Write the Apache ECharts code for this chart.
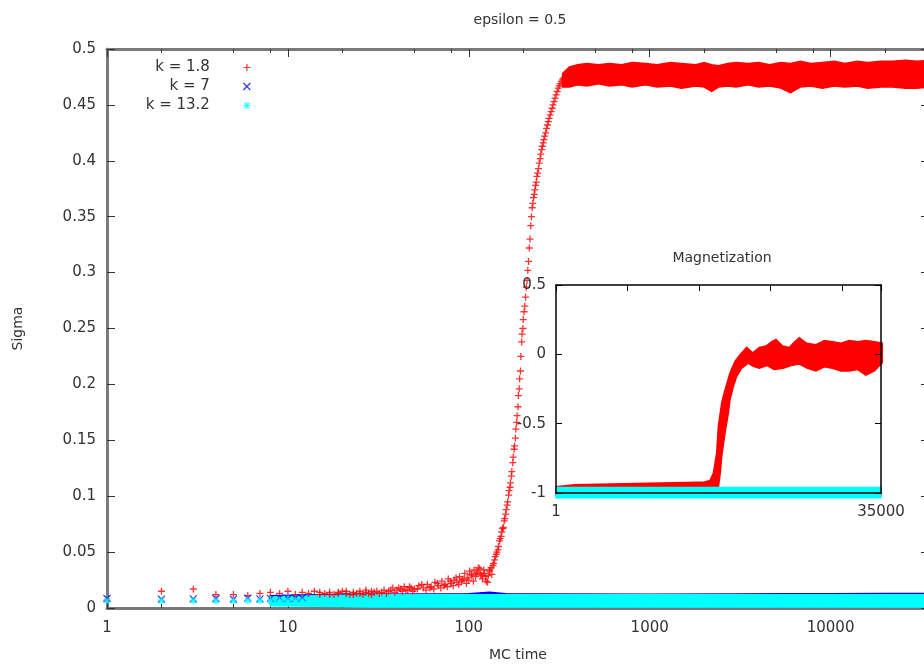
<!DOCTYPE html>
<html><head><meta charset="utf-8">
<script src="https://cdn.jsdelivr.net/npm/echarts@6/dist/echarts.min.js"></script>
<style>html,body{margin:0;padding:0;background:#fff}#c{width:924px;height:666px}</style>
</head><body><div id="c"></div>
<script>
// ---------- data ----------
const xMinorTicks = [2,5,8,20,50,80,200,500,800,2000,5000,8000,20000];

// k = 1.8, individual points (MC time, sigma)
const redT = [1,2,3,4,5,6,7,8,9,10,11,12,13,14,15,16,17,18,19,20,21,22,23,24,25,26,27,28,29,30,32,34,36,38,40,42,44,46,48,50,53,56,59,62,65,68,71,74,77,80,83,86,89,92,95,98,101,104,107,110,113,116,119,122,125,128,131,134,137,140,143,146,149,152,155,158,161,164,167,170,173,176,179,182,185,188,191,194,197,200,204,208,212,216,220,224,228,232,236,240,245,250,255,260,266,272,278,285,292,300,308,316,325,335,345,355,370];
const redS = [.007,.015,.017,.012,.012,.011,.013,.014,.013,.015,.012,.014,.013,.015,.012,.013,.014,.012,.013,.015,.013,.012,.014,.013,.015,.012,.014,.013,.015,.014,.013,.016,.015,.018,.016,.017,.019,.016,.018,.017,.020,.018,.021,.019,.023,.020,.024,.021,.026,.022,.025,.023,.028,.025,.031,.027,.033,.029,.034,.031,.036,.030,.026,.031,.024,.029,.034,.030,.040,.046,.050,.055,.062,.068,.072,.080,.088,.095,.105,.112,.122,.135,.145,.160,.172,.190,.205,.225,.245,.258,.270,.287,.302,.322,.342,.358,.367,.374,.381,.389,.398,.406,.413,.419,.425,.432,.438,.444,.450,.456,.462,.467,.471,.474,.476,.477,.478];
// k = 1.8, more points read from the same cloud
const redT2 = [15,17,19,21,23,25,27,29,31,33,35,37,39,41,43,45,47,49,52,55,58,61,64,67,70,73,76,79,82,85,88,91,94,97,100,103,106,109,112,115,118,121,124,127,130,133,136,139,142,145,148,151,154,157,160,163,166,169,172,175,178,181,184,187,190,193,196,199,202,206,210,214,218,222,226,230,234,238,243,248,253,258,263,269,275,282,289,296,304,312,320,330,340,350,362,375];
const redS2 = [.014,.012,.014,.015,.012,.013,.016,.012,.015,.014,.013,.016,.014,.018,.015,.016,.019,.015,.017,.021,.016,.018,.017,.022,.018,.020,.019,.024,.020,.027,.021,.024,.026,.022,.025,.030,.024,.028,.032,.035,.029,.034,.028,.023,.033,.036,.038,.043,.048,.052,.060,.064,.071,.078,.084,.092,.101,.108,.118,.130,.142,.152,.166,.180,.196,.212,.238,.250,.265,.278,.293,.310,.330,.350,.362,.370,.378,.386,.393,.402,.410,.416,.422,.429,.435,.441,.447,.453,.459,.465,.469,.473,.475,.477,.479,.480];
// k = 1.8, dense plateau envelope
const redBandT  = [330,360,400,450,520,600,700,800,950,1100,1300,1500,1800,2000,2200,2400,2700,3000,3500,4000,4600,5300,6000,6800,7800,9000,10500,12000,14000,16000,19000,22000,26000,30000,35000];
const redBandLo = [.466,.466,.468,.467,.469,.467,.468,.466,.468,.466,.467,.465,.467,.466,.462,.466,.467,.466,.468,.466,.467,.465,.461,.466,.467,.465,.467,.466,.467,.465,.466,.466,.465,.465,.466];
const redBandHi = [.478,.484,.486,.487,.486,.487,.486,.488,.487,.486,.488,.487,.486,.488,.486,.485,.487,.488,.487,.488,.486,.488,.487,.489,.487,.488,.489,.487,.489,.488,.489,.489,.490,.489,.490];

// k = 7
const blueT = [1,2,3,4,5,6,7,8,9,10,11,12];
const blueS = [.0085,.008,.0082,.0085,.008,.0088,.0082,.0086,.009,.0085,.0088,.0092];
const blueBandT  = [8,20,60,100,130,160,300,1000,3000,6000,10000,20000,35000];
const blueBandLo = [.004,.004,.004,.004,.004,.004,.004,.004,.004,.004,.004,.004,.004];
const blueBandHi = [.011,.0122,.0125,.0128,.014,.0128,.0125,.0124,.0126,.0128,.0127,.013,.013];

// k = 13.2
const cyanT = [1,2,3,4,5,6,7,8,9,10,11,12];
const cyanS = [.0065,.0065,.0065,.0065,.0065,.0068,.0066,.0065,.0067,.0066,.0068,.0065];
const cyanBandT  = [8,15,30,35000];
const cyanBandLo = [.002,.0015,.001,.001];
const cyanBandHi = [.010,.011,.0118,.0118];

// inset: Magnetization
const magRedUpT = [1,2000,6000,10000,14000,16000,16585,16944,17303,17482,17841,18200,18738,19277,19815,20533,21190,21900,22620,23200,23690,24400,25120,25700,26200,27000,27990,28900,29770,30700,31560,32500,33360,34300,35140];
const magRedUpM = [-0.955,-0.94,-0.935,-0.93,-0.925,-0.92,-0.91,-0.858,-0.713,-0.521,-0.352,-0.256,-0.135,-0.051,-0.003,0.05,0.01,0.05,0.06,0.09,0.107,0.06,0.05,0.09,0.12,0.08,0.07,0.1,0.09,0.08,0.1,0.09,0.1,0.09,0.08];
const magRedLoT = [1,17000,17482,17700,17841,18200,18558,18738,19096,19456,19994,20712,21250,21900,22700,23500,24470,25300,26200,27100,27990,28900,29770,30700,31560,32500,33360,34300,35140];
const magRedLoM = [-0.99,-0.99,-0.96,-0.85,-0.738,-0.569,-0.424,-0.328,-0.232,-0.159,-0.099,-0.063,-0.087,-0.1,-0.08,-0.11,-0.1,-0.08,-0.07,-0.1,-0.12,-0.09,-0.1,-0.12,-0.12,-0.11,-0.15,-0.12,-0.06];
const magBlueT  = [1,35000];
const magBlueLo = [-1.02,-1.02];
const magBlueHi = [-0.975,-0.975];
const magCyanT  = [1,35000];
const magCyanLo = [-1.035,-1.035];
const magCyanHi = [-0.96,-0.96];

// ---------- styles ----------
const FONT = 'DejaVu Sans';
const TXT = '#333';
const RED = '#ff0000', BLUE = '#0000ff', CYAN = '#00ffff';
const PLUS = 'path://M0,4L8,4M4,0L4,8';
const CROSS = 'path://M0,0L8,8M8,0L0,8';
const STAR = 'path://M0,4L8,4M4,0L4,8M1,1L7,7M7,1L1,7';

function band(tUp, vUp, tLo, vLo, color) {
  return function (params, api) {
    const pts = [];
    for (let i = 0; i < tUp.length; i++) pts.push(api.coord([tUp[i], vUp[i]]));
    for (let i = tLo.length - 1; i >= 0; i--) pts.push(api.coord([tLo[i], vLo[i]]));
    return { type: 'polygon', shape: { points: pts }, style: { fill: color, stroke: color, lineWidth: 1.5 } };
  };
}
function pairs(a, b) { return a.map((v, i) => [v, b[i]]); }

const grayLine = { show: true, onZero: false, lineStyle: { color: '#7a7a7a', width: 3 } };
const blackLine = { show: true, onZero: false, lineStyle: { color: '#000', width: 1.5 } };
const noLine = { show: false, onZero: false };
const lbl = { color: TXT, fontSize: 15, fontFamily: FONT };

function legendItem(name, icon, color, top) {
  return {
    data: [{ name: name, icon: icon, itemStyle: { color: color, borderColor: color, borderWidth: 1.2 } }],
    orient: 'vertical', align: 'right', right: 673, top: top, padding: 0,
    itemWidth: 64, itemHeight: 7, selectedMode: false,
    textStyle: { color: TXT, fontSize: 15, fontFamily: FONT }
  };
}

const option = {
  animation: false,
  backgroundColor: '#fff',
  title: [
    { text: 'epsilon = 0.5', left: 515, textAlign: 'center', top: 8,
      textStyle: { color: TXT, fontSize: 14, fontWeight: 'normal', fontFamily: FONT } },
    { text: 'Magnetization', left: 717, textAlign: 'center', top: 246,
      textStyle: { color: TXT, fontSize: 14, fontWeight: 'normal', fontFamily: FONT } }
  ],
  legend: [
    legendItem('k = 1.8', PLUS, RED, 60),
    legendItem('k = 7', CROSS, BLUE, 79),
    legendItem('k = 13.2', STAR, CYAN, 98)
  ],
  grid: [
    { left: 107, top: 49, width: 822, height: 559, containLabel: false, outerBoundsMode: 'none' },
    { left: 556, top: 285, width: 325, height: 208, containLabel: false, outerBoundsMode: 'none', show: true, backgroundColor: '#fff', borderWidth: 0 }
  ],
  xAxis: [
    { type: 'log', logBase: 10, gridIndex: 0, min: 1, max: 35000, position: 'bottom', splitNumber: 5,
      axisLine: grayLine,
      axisTick: { show: true, inside: true, length: 8, lineStyle: { color: '#333', width: 1 } },
      axisLabel: Object.assign({ margin: 13, showMaxLabel: false, formatter: v => String(v) }, lbl),
      splitLine: { show: false }, minorTick: { show: false },
      name: 'MC time', nameLocation: 'middle', nameGap: 40,
      nameTextStyle: { color: TXT, fontSize: 14, fontFamily: FONT } },
    { type: 'log', logBase: 10, gridIndex: 0, min: 1, max: 35000, position: 'bottom',
      axisLine: noLine,
      axisTick: { show: true, inside: true, length: 4, customValues: xMinorTicks, lineStyle: { color: '#333', width: 1 } },
      axisLabel: { show: false }, splitLine: { show: false } },
    { type: 'log', logBase: 10, gridIndex: 0, min: 1, max: 35000, position: 'top', splitNumber: 5,
      axisLine: grayLine,
      axisTick: { show: true, inside: true, length: 8, lineStyle: { color: '#333', width: 1 } },
      axisLabel: { show: false }, splitLine: { show: false } },
    { type: 'log', logBase: 10, gridIndex: 0, min: 1, max: 35000, position: 'top',
      axisLine: noLine,
      axisTick: { show: true, inside: true, length: 4, customValues: xMinorTicks, lineStyle: { color: '#333', width: 1 } },
      axisLabel: { show: false }, splitLine: { show: false } },
    { type: 'value', gridIndex: 1, min: 0, max: 35000, interval: 35000, position: 'bottom', z: 10,
      axisLine: blackLine, axisTick: { show: false },
      axisLabel: Object.assign({ margin: 12, formatter: v => (v === 0 ? '1' : String(v)) }, lbl),
      splitLine: { show: false } },
    { type: 'value', gridIndex: 1, min: 0, max: 35000, interval: 7700, position: 'top', z: 10,
      axisLine: blackLine,
      axisTick: { show: true, inside: true, length: 6, lineStyle: { color: '#000', width: 1 } },
      axisLabel: { show: false }, splitLine: { show: false } }
  ],
  yAxis: [
    { type: 'value', gridIndex: 0, min: 0, max: 0.5, interval: 0.05, position: 'left',
      axisLine: grayLine,
      axisTick: { show: true, inside: true, length: 8, lineStyle: { color: '#333', width: 1 } },
      axisLabel: Object.assign({ margin: 11 }, lbl),
      splitLine: { show: false },
      name: 'Sigma', nameLocation: 'middle', nameGap: 82,
      nameTextStyle: { color: TXT, fontSize: 14, fontFamily: FONT } },
    { type: 'value', gridIndex: 0, min: 0, max: 0.5, interval: 0.05, position: 'right',
      axisLine: grayLine,
      axisTick: { show: true, inside: true, length: 8, lineStyle: { color: '#333', width: 1 } },
      axisLabel: { show: false }, splitLine: { show: false } },
    { type: 'value', gridIndex: 1, min: -1, max: 0.5, interval: 0.5, position: 'left', z: 10,
      axisLine: blackLine,
      axisTick: { show: true, inside: true, length: 6, lineStyle: { color: '#000', width: 1 } },
      axisLabel: Object.assign({ margin: 10 }, lbl),
      splitLine: { show: false } },
    { type: 'value', gridIndex: 1, min: -1, max: 0.5, interval: 0.5, position: 'right', z: 10,
      axisLine: blackLine,
      axisTick: { show: true, inside: true, length: 6, lineStyle: { color: '#000', width: 1 } },
      axisLabel: { show: false }, splitLine: { show: false } }
  ],
  series: [
    { name: 'k = 1.8', type: 'scatter', xAxisIndex: 0, yAxisIndex: 0, silent: true,
      symbol: PLUS, symbolSize: 7, data: pairs(redT, redS),
      itemStyle: { color: RED, borderColor: RED, borderWidth: 1.3 } },
    { name: 'k = 1.8', type: 'scatter', xAxisIndex: 0, yAxisIndex: 0, silent: true,
      symbol: PLUS, symbolSize: 7, data: pairs(redT2, redS2),
      itemStyle: { color: RED, borderColor: RED, borderWidth: 1.3 } },
    { name: 'k = 1.8', type: 'custom', xAxisIndex: 0, yAxisIndex: 0, silent: true,
      data: [[1000, 0.47]], renderItem: band(redBandT, redBandHi, redBandT, redBandLo, RED) },
    { name: 'k = 7', type: 'scatter', xAxisIndex: 0, yAxisIndex: 0, silent: true,
      symbol: CROSS, symbolSize: 7, data: pairs(blueT, blueS),
      itemStyle: { color: BLUE, borderColor: BLUE, borderWidth: 1.2 } },
    { name: 'k = 7', type: 'custom', xAxisIndex: 0, yAxisIndex: 0, silent: true,
      data: [[1000, 0.008]], renderItem: band(blueBandT, blueBandHi, blueBandT, blueBandLo, BLUE) },
    { name: 'k = 13.2', type: 'scatter', xAxisIndex: 0, yAxisIndex: 0, silent: true,
      symbol: STAR, symbolSize: 7, data: pairs(cyanT, cyanS),
      itemStyle: { color: CYAN, borderColor: CYAN, borderWidth: 1.2 } },
    { name: 'k = 13.2', type: 'custom', xAxisIndex: 0, yAxisIndex: 0, silent: true,
      data: [[1000, 0.006]], renderItem: band(cyanBandT, cyanBandHi, cyanBandT, cyanBandLo, CYAN) },
    { name: 'k = 1.8', type: 'custom', xAxisIndex: 4, yAxisIndex: 2, silent: true,
      data: [[20000, 0]], renderItem: band(magRedUpT, magRedUpM, magRedLoT, magRedLoM, RED) },
    { name: 'k = 7', type: 'custom', xAxisIndex: 4, yAxisIndex: 2, silent: true,
      data: [[20000, -1]], renderItem: band(magBlueT, magBlueHi, magBlueT, magBlueLo, BLUE) },
    { name: 'k = 13.2', type: 'custom', xAxisIndex: 4, yAxisIndex: 2, silent: true,
      data: [[20000, -1]], renderItem: band(magCyanT, magCyanHi, magCyanT, magCyanLo, CYAN) }
  ]
};

const chart = echarts.init(document.getElementById('c'), null, { renderer: 'canvas' });
chart.setOption(option);
</script>
</body></html>
